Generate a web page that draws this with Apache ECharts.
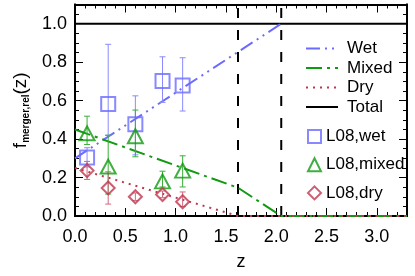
<!DOCTYPE html>
<html><head><meta charset="utf-8">
<script src="https://cdn.jsdelivr.net/npm/echarts@6/dist/echarts.min.js"></script>
<style>html,body{margin:0;padding:0;background:#fff}#c{width:415px;height:276px}</style>
</head><body><div id="c"></div>
<script>
// ---- data ----
const zL08 = [0.12, 0.33, 0.60, 0.87, 1.07];
const wetY  = [0.304, 0.582, 0.477, 0.702, 0.679];
const wetLo = [0.255, 0.420, 0.318, 0.591, 0.546];
const wetHi = [0.355, 0.893, 0.625, 0.828, 0.823];
const mixY  = [0.430, 0.257, 0.415, 0.180, 0.236];
const mixLo = [0.372, 0.114, 0.308, 0.151, 0.151];
const mixHi = [0.519, 0.420, 0.551, 0.233, 0.313];
const dryY  = [0.236, 0.146, 0.100, 0.112, 0.074];
const dryLo = [0.190, 0.062, 0.080, 0.095, 0.049];
const dryHi = [0.284, 0.230, 0.120, 0.130, 0.125];
// model curves (z, fraction)
const wetLineZ = [0, 2.05];
const wetLineF = [0.30, 1.0];
const mixLineZ = [0, 1.62, 2.05, 3.3];
const mixLineF = [0.45, 0.147, 0.0, 0.0];
const dryLineZ = [0, 1.62, 3.3];
const dryLineF = [0.25, 0.0, 0.0];
const totLineZ = [0, 3.3];
const totLineF = [1.0, 1.0];
const vLinesZ = [1.62, 2.05];
const xTicks = [0, 0.5, 1.0, 1.5, 2.0, 2.5, 3.0];
const yTicks = [0, 0.2, 0.4, 0.6, 0.8, 1.0];

const FONT = 'Liberation Sans';
const cWet = '#6b6bff', cMix = '#109a10', cDry = '#c0364e';
const cWetE = '#8a8aff', cMixE = '#3aae3a', cDryE = '#d06a7c';

const pairs = (a, b) => a.map((v, i) => [v, b[i]]);
const triples = (a, b, c) => a.map((v, i) => [v, b[i], c[i]]);

function errRender(color) {
  return function (params, api) {
    const x = api.value(0), lo = api.value(1), hi = api.value(2);
    const p1 = api.coord([x, lo]), p2 = api.coord([x, hi]);
    const w = 3;
    const st = { stroke: color, lineWidth: 1 };
    return { type: 'group', children: [
      { type: 'line', shape: { x1: p1[0], y1: p1[1], x2: p2[0], y2: p2[1] }, style: st },
      { type: 'line', shape: { x1: p1[0] - w, y1: p1[1], x2: p1[0] + w, y2: p1[1] }, style: st },
      { type: 'line', shape: { x1: p2[0] - w, y1: p2[1], x2: p2[0] + w, y2: p2[1] }, style: st }
    ] };
  };
}

const XMIN = 0, XMAX = 3.3, YMIN = 0, YMAX = 1.1;
const axLine = { show: true, onZero: false, lineStyle: { color: '#000', width: 2 } };
function xAx(pos, major) {
  return {
    type: 'value', position: pos, min: XMIN, max: XMAX, interval: major ? 0.5 : 0.1,
    axisLine: axLine, splitLine: { show: false },
    axisTick: { show: true, inside: true, length: major ? 8 : 4, lineStyle: { color: '#000', width: 1 } },
    axisLabel: { show: major && pos === 'bottom', showMaxLabel: false, margin: 12,
      fontSize: 18, color: '#000', fontFamily: FONT,
      formatter: v => xTicks.includes(+v.toFixed(1)) ? v.toFixed(1) : '' },
    name: (major && pos === 'bottom') ? 'z' : '', nameLocation: 'middle', nameGap: 37,
    nameTextStyle: { fontSize: 18, color: '#000', fontFamily: FONT }
  };
}
function yAx(pos, major) {
  return {
    type: 'value', position: pos, min: YMIN, max: YMAX, interval: major ? 0.2 : 0.05,
    axisLine: axLine, splitLine: { show: false },
    axisTick: { show: true, inside: true, length: major ? 8 : 4, lineStyle: { color: '#000', width: 1 } },
    axisLabel: { show: major && pos === 'left', showMaxLabel: false, margin: 8,
      fontSize: 18, color: '#000', fontFamily: FONT,
      formatter: v => yTicks.includes(+v.toFixed(1)) ? v.toFixed(1) : '' },
    name: (major && pos === 'left') ? '{f|f}{s|merger,rel}{f|(z)}' : '',
    nameLocation: 'middle', nameGap: 40,
    nameTextStyle: { color: '#000', fontFamily: FONT,
      rich: {
        f: { fontSize: 19, fontFamily: FONT, color: '#000', lineHeight: 20, verticalAlign: 'top' },
        s: { fontSize: 10, fontFamily: FONT, color: '#000', fontWeight: 'bold', lineHeight: 11, padding: [10, 0, 0, 0], verticalAlign: 'top' }
      } }
  };
}

const series = [
  { name: 'Total', type: 'line', data: pairs(totLineZ, totLineF), symbol: 'none',
    lineStyle: { color: '#000', width: 2 }, itemStyle: { color: '#000' }, z: 3 },
  { name: 'Wet', type: 'line', data: pairs(wetLineZ, wetLineF), symbol: 'none',
    lineStyle: { color: cWet, width: 2, type: [14, 5, 2, 5, 2, 5] }, itemStyle: { color: cWet }, z: 4 },
  { name: 'Mixed', type: 'line', data: pairs(mixLineZ, mixLineF), symbol: 'none',
    lineStyle: { color: cMix, width: 2, type: [16, 5, 3, 5] }, itemStyle: { color: cMix }, z: 4 },
  { name: 'Dry', type: 'line', data: pairs(dryLineZ, dryLineF), symbol: 'none',
    lineStyle: { color: cDry, width: 2, type: [2, 5] }, itemStyle: { color: cDry }, z: 4 }
];
vLinesZ.forEach(z => series.push({
  type: 'line', data: [[z, YMIN], [z, YMAX]], symbol: 'none', silent: true,
  lineStyle: { color: '#000', width: 2, type: [10, 12] }, z: 3
}));
[[wetLo, wetHi, cWetE], [mixLo, mixHi, cMixE], [dryLo, dryHi, cDryE]].forEach(([lo, hi, c]) => series.push({
  type: 'custom', renderItem: errRender(c), data: triples(zL08, lo, hi),
  encode: { x: 0, y: [1, 2] }, z: 5, silent: true
}));
const hollow = c => ({ color: 'rgba(0,0,0,0)', borderColor: c, borderWidth: 2 });
series.push(
  { name: 'L08,wet', type: 'scatter', data: pairs(zL08, wetY), symbol: 'rect', symbolSize: 14, itemStyle: hollow(cWet), z: 6 },
  { name: 'L08,mixed', type: 'scatter', data: pairs(zL08, mixY), symbol: 'triangle', symbolSize: [15, 14], itemStyle: hollow(cMix), z: 6 },
  { name: 'L08,dry', type: 'scatter', data: pairs(zL08, dryY), symbol: 'diamond', symbolSize: 13, itemStyle: hollow(cDry), z: 6 }
);

const chart = echarts.init(document.getElementById('c'), null, { renderer: 'canvas' });
chart.setOption({
  animation: false,
  backgroundColor: '#fff',
  grid: { left: 75, right: 8, top: 4.5, bottom: 56.5, containLabel: false },
  xAxis: [xAx('bottom', true), xAx('bottom', false), xAx('top', true), xAx('top', false)],
  yAxis: [yAx('left', true), yAx('left', false), yAx('right', true), yAx('right', false)],
  legend: [
    { data: ['Wet', 'Mixed', 'Dry', 'Total'], orient: 'vertical', left: 300, top: 35,
      itemWidth: 32, itemHeight: 14, itemGap: 2.5, selectedMode: false,
      itemStyle: { opacity: 0, borderWidth: 0 },
      textStyle: { fontSize: 17, lineHeight: 17, color: '#000', fontFamily: FONT, padding: [0, 0, 0, 4] } },
    { data: ['L08,wet', 'L08,mixed', 'L08,dry'], orient: 'vertical', left: 302, top: 123,
      itemWidth: 13, itemHeight: 13, itemGap: 11.2, selectedMode: false,
      textStyle: { fontSize: 17, lineHeight: 17, color: '#000', fontFamily: FONT } }
  ],
  series: series
});
</script></body></html>
